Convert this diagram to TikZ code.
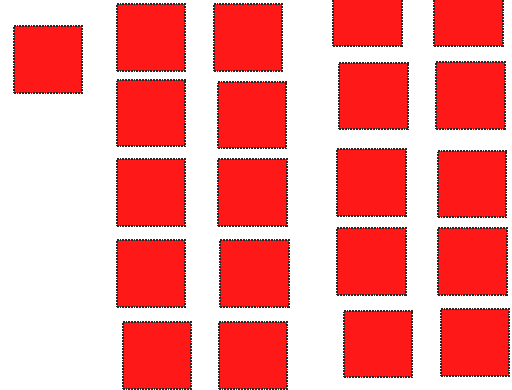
\documentclass[tikz,border=0pt]{standalone}
\usepackage{tikz}

\definecolor{tilered}{RGB}{255,24,24}

\begin{document}
\begin{tikzpicture}[
    x=1pt, y=-1pt,
    tile/.style={draw=black!85, densely dotted, line width=1.8pt, fill=tilered,
                 minimum width=68.5pt, minimum height=66.5pt, inner sep=0pt}
  ]

  \useasboundingbox (0, 0) rectangle (512, 389);
  \clip (0, 0) rectangle (512, 389);

  % Single tile on the left
  \node[tile] (solo) at (48, 59.5) {};

  % Second column
  \node[tile] (b1) at (151, 37.5) {};
  \node[tile] (b2) at (151, 113) {};
  \node[tile] (b3) at (151, 192.5) {};
  \node[tile] (b4) at (151, 273.5) {};
  \node[tile] (b5) at (157, 355.5) {};

  % Third column
  \node[tile] (c1) at (248, 37.5) {};
  \node[tile] (c2) at (252, 115) {};
  \node[tile] (c3) at (252.5, 192.5) {};
  \node[tile] (c4) at (254.5, 273.5) {};
  \node[tile] (c5) at (253, 355.5) {};

  % Fourth column
  \node[tile] (d1) at (367.5, 12.5) {};
  \node[tile] (d2) at (373.5, 96) {};
  \node[tile] (d3) at (371.5, 182.5) {};
  \node[tile] (d4) at (371.5, 261.5) {};
  \node[tile] (d5) at (378, 344) {};

  % Fifth column
  \node[tile] (e1) at (468.5, 12.5) {};
  \node[tile] (e2) at (470.5, 95.5) {};
  \node[tile] (e3) at (472, 184) {};
  \node[tile] (e4) at (472.5, 261.5) {};
  \node[tile] (e5) at (475, 342.5) {};

\end{tikzpicture}
\end{document}
